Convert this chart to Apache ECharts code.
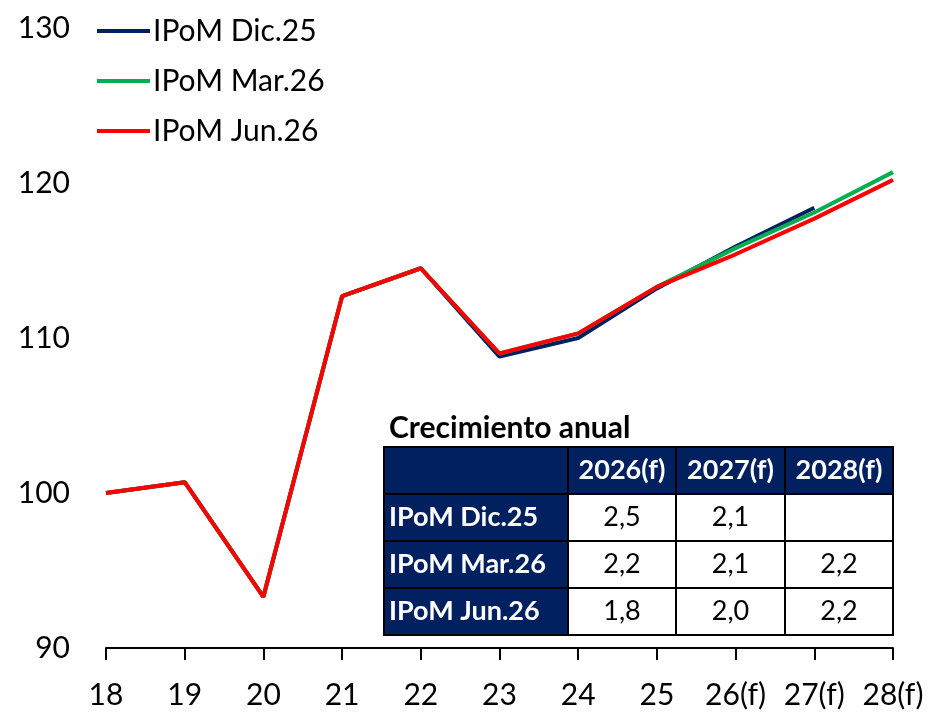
<!DOCTYPE html>
<html>
<head>
<meta charset="utf-8">
<script src="https://cdn.jsdelivr.net/npm/echarts@6/dist/echarts.min.js"></script>
<style>
  html, body { margin: 0; padding: 0; background: #fff; }
  #chart { width: 931px; height: 714px; }
</style>
</head>
<body>
<div id="chart"></div>
<script>
const categories = ['18', '19', '20', '21', '22', '23', '24', '25', '26(f)', '27(f)', '28(f)'];
const ipomDic25 = [100.0, 100.7, 93.3, 112.7, 114.5, 108.8, 110.0, 113.2, 115.9, 118.4, null];
const ipomMar26 = [100.0, 100.7, 93.3, 112.7, 114.5, 109.0, 110.3, 113.3, 115.8, 118.1, 120.7];
const ipomJun26 = [100.0, 100.7, 93.3, 112.7, 114.5, 109.0, 110.3, 113.3, 115.4, 117.7, 120.2];
const yTicks = [90, 100, 110, 120, 130];

// annual growth table
const tableTitle = 'Crecimiento anual';
const tableCols = ['2026(f)', '2027(f)', '2028(f)'];
const tableRows = ['IPoM Dic.25', 'IPoM Mar.26', 'IPoM Jun.26'];
const growthDic25 = [2.5, 2.1, null];
const growthMar26 = [2.2, 2.1, 2.2];
const growthJun26 = [1.8, 2.0, 2.2];

const FONT = 'Lato, "Open Sans", sans-serif';
const NAVY = '#002060';

const chart = echarts.init(document.getElementById('chart'));

function fmt(v) {
  return v == null ? '' : v.toFixed(1).replace('.', ',');
}

function buildTable() {
  const x0 = 384, y0 = 447;
  const colW = [184, 108, 109, 108];
  const rowH = 47;
  const values = [growthDic25, growthMar26, growthJun26];
  const els = [];
  els.push({
    type: 'text', x: 389, y: 428,
    style: { text: tableTitle, font: 'bold 30px ' + FONT, fill: '#000', verticalAlign: 'middle' }
  });
  let cx = x0;
  const colX = colW.map(w => { const s = cx; cx += w; return s; });
  const totalW = cx - x0;
  for (let r = 0; r <= tableRows.length; r++) {
    for (let c = 0; c < colW.length; c++) {
      const isHead = r === 0 || c === 0;
      const x = colX[c], y = y0 + r * rowH;
      els.push({
        type: 'rect',
        shape: { x: x, y: y, width: colW[c], height: rowH },
        style: { fill: isHead ? NAVY : '#fff', stroke: '#000', lineWidth: 2 }
      });
      let txt = '';
      if (r === 0 && c > 0) txt = tableCols[c - 1];
      else if (r > 0 && c === 0) txt = tableRows[r - 1];
      else if (r > 0) txt = fmt(values[r - 1][c - 1]);
      if (txt) {
        els.push({
          type: 'text',
          x: c === 0 ? x + 5 : x + colW[c] / 2,
          y: y + rowH / 2,
          style: {
            text: txt,
            font: (isHead ? 'bold ' : '') + '27px ' + FONT,
            fill: isHead ? '#fff' : '#000',
            align: c === 0 ? 'left' : 'center',
            verticalAlign: 'middle'
          }
        });
      }
    }
  }
  els.push({
    type: 'rect',
    shape: { x: x0, y: y0, width: totalW, height: rowH * (tableRows.length + 1) },
    style: { fill: 'none', stroke: '#000', lineWidth: 2 }
  });
  return els;
}

chart.setOption({
  animation: false,
  backgroundColor: '#fff',
  textStyle: { fontFamily: FONT },
  grid: { left: 106, right: 38, top: 28, bottom: 66 },
  legend: {
    orient: 'vertical',
    left: 92,
    top: 8,
    icon: 'rect',
    itemWidth: 53,
    itemHeight: 4,
    itemGap: 14,
    textStyle: { fontSize: 30, lineHeight: 36, color: '#000', fontFamily: FONT, padding: [0, 0, 0, -2] },
    data: ['IPoM Dic.25', 'IPoM Mar.26', 'IPoM Jun.26']
  },
  xAxis: {
    type: 'category',
    data: categories,
    boundaryGap: false,
    axisLine: { lineStyle: { color: '#000', width: 2 } },
    axisTick: { inside: false, length: 12, lineStyle: { color: '#000', width: 2 } },
    axisLabel: { color: '#000', fontSize: 30, margin: 32, interval: 0 },
    splitLine: { show: false }
  },
  yAxis: {
    type: 'value',
    min: yTicks[0],
    max: yTicks[yTicks.length - 1],
    interval: 10,
    axisLine: { show: false },
    axisTick: { show: false },
    axisLabel: { color: '#000', fontSize: 30, margin: 36 },
    splitLine: { show: false }
  },
  series: [
    {
      name: 'IPoM Dic.25', type: 'line', data: ipomDic25, symbol: 'none',
      lineStyle: { color: NAVY, width: 4 }, itemStyle: { color: NAVY }
    },
    {
      name: 'IPoM Mar.26', type: 'line', data: ipomMar26, symbol: 'none',
      lineStyle: { color: '#00b050', width: 4 }, itemStyle: { color: '#00b050' }
    },
    {
      name: 'IPoM Jun.26', type: 'line', data: ipomJun26, symbol: 'none',
      lineStyle: { color: '#ff0000', width: 4 }, itemStyle: { color: '#ff0000' }
    }
  ],
  graphic: buildTable()
});
</script>
</body>
</html>
